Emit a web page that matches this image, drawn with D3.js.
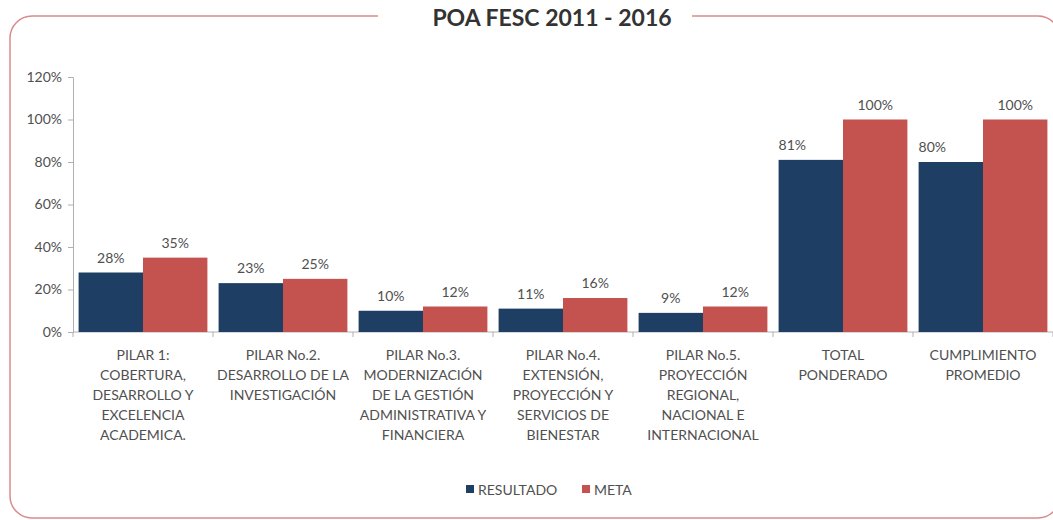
<!DOCTYPE html>
<html>
<head>
<meta charset="utf-8">
<script src="https://cdn.jsdelivr.net/npm/d3@7"></script>
<style>
  body { margin: 0; background: #fff; }
  svg { display: block; font-family: Lato, "Open Sans", sans-serif; }
</style>
</head>
<body>
<svg id="chart" width="1053" height="520"></svg>
<script>
// data
const categories = [
  ["PILAR 1:", "COBERTURA,", "DESARROLLO Y", "EXCELENCIA", "ACADEMICA."],
  ["PILAR No.2.", "DESARROLLO DE LA", "INVESTIGACIÓN"],
  ["PILAR No.3.", "MODERNIZACIÓN", "DE LA GESTIÓN", "ADMINISTRATIVA Y", "FINANCIERA"],
  ["PILAR No.4.", "EXTENSIÓN,", "PROYECCIÓN Y", "SERVICIOS DE", "BIENESTAR"],
  ["PILAR No.5.", "PROYECCIÓN", "REGIONAL,", "NACIONAL E", "INTERNACIONAL"],
  ["TOTAL", "PONDERADO"],
  ["CUMPLIMIENTO", "PROMEDIO"]
];
const seriesNames = ["RESULTADO", "META"];
const resultado = [28, 23, 10, 11, 9, 81, 80];
const meta = [35, 25, 12, 16, 12, 100, 100];
const yTicks = [0, 20, 40, 60, 80, 100, 120];
const title = "POA FESC 2011 - 2016";

const colors = ["#1f3e64", "#c4524f"];
const textColor = "#505050";

const svg = d3.select("#chart");
const plotLeft = 73, plotRight = 1053, plotTop = 77, plotBottom = 332;

const keys = categories.map((c, i) => "c" + i);
const x0 = d3.scaleBand().domain(keys).range([plotLeft, plotRight])
  .paddingInner(0.08).paddingOuter(0.04);
const x1 = d3.scaleBand().domain(seriesNames).range([0, x0.bandwidth()]);
const y = d3.scaleLinear().domain([0, 120]).range([plotBottom, plotTop]);

// rounded frame, with a gap for the title
svg.append("rect")
  .attr("x", 10).attr("y", 16).attr("width", 1050).attr("height", 502)
  .attr("rx", 22).attr("ry", 22)
  .attr("fill", "none").attr("stroke", "#d98a8a").attr("stroke-width", 1.5);
svg.append("rect")
  .attr("x", 378).attr("y", 10).attr("width", 314).attr("height", 14)
  .attr("fill", "#fff");

svg.append("text")
  .attr("x", 552).attr("y", 26)
  .attr("text-anchor", "middle")
  .attr("font-size", 23).attr("font-weight", "bold")
  .attr("fill", "#333")
  .text(title);

// y axis
const yAxis = svg.append("g")
  .attr("transform", "translate(" + plotLeft + ",0)")
  .call(d3.axisLeft(y).tickValues(yTicks).tickSize(5).tickPadding(6)
    .tickFormat(d => d + "%"));
yAxis.selectAll("line, path").attr("stroke", "#b0b0b0");
yAxis.selectAll("text").attr("font-size", 14).attr("fill", textColor)
  .attr("font-family", "Lato, sans-serif");

// x axis with ticks between groups
const xAxis = svg.append("g").attr("transform", "translate(0," + plotBottom + ")");
xAxis.append("line").attr("x1", plotLeft).attr("x2", plotRight)
  .attr("stroke", "#b0b0b0");
const step = x0.step();
xAxis.selectAll(".tk").data(d3.range(categories.length + 1)).enter()
  .append("line")
  .attr("x1", i => plotLeft + i * step).attr("x2", i => plotLeft + i * step)
  .attr("y1", 0).attr("y2", 5).attr("stroke", "#b0b0b0");

// bars
const groups = svg.selectAll(".grp").data(keys).enter()
  .append("g").attr("transform", k => "translate(" + x0(k) + ",0)");

groups.each(function(k, i) {
  const vals = [resultado[i], meta[i]];
  const g = d3.select(this);
  g.selectAll("rect").data(vals).enter().append("rect")
    .attr("x", (v, j) => x1(seriesNames[j]))
    .attr("y", v => y(v))
    .attr("width", x1.bandwidth())
    .attr("height", v => plotBottom - y(v))
    .attr("fill", (v, j) => colors[j]);
  // the two big RESULTADO labels sit at the left edge of their bar
  const leftAligned = (v, j) => j === 0 && i >= 5;
  g.selectAll("text").data(vals).enter().append("text")
    .attr("x", (v, j) => leftAligned(v, j) ? x1(seriesNames[j])
      : x1(seriesNames[j]) + x1.bandwidth() / 2)
    .attr("y", v => y(v) - 10)
    .attr("text-anchor", (v, j) => leftAligned(v, j) ? "start" : "middle")
    .attr("font-size", 14).attr("fill", textColor)
    .text(v => v + "%");
});

// category labels
categories.forEach((lines, i) => {
  const cx = x0(keys[i]) + x0.bandwidth() / 2;
  const t = svg.append("text")
    .attr("text-anchor", "middle")
    .attr("font-size", 14).attr("fill", textColor);
  lines.forEach((ln, j) => {
    t.append("tspan").attr("x", cx).attr("y", 360 + j * 20).text(ln);
  });
});

// legend
const legend = svg.append("g");
const lx = [466, 582];
seriesNames.forEach((s, i) => {
  legend.append("rect").attr("x", lx[i]).attr("y", 485)
    .attr("width", 8).attr("height", 8).attr("fill", colors[i]);
  legend.append("text").attr("x", lx[i] + 12).attr("y", 495)
    .attr("font-size", 14).attr("fill", textColor).text(s);
});
</script>
</body>
</html>
